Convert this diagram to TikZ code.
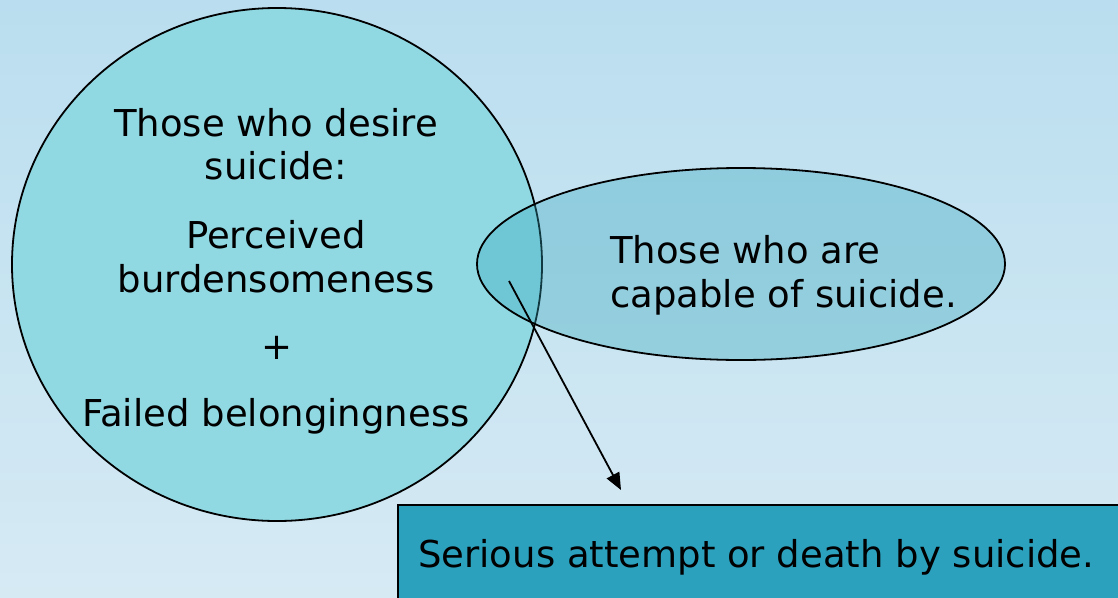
\documentclass[tikz,border=0pt]{standalone}
\usepackage{fontspec}
\setmainfont{DejaVu Sans}
\usetikzlibrary{shapes.geometric,arrows.meta}
\definecolor{bgtop}{HTML}{BADEEF}
\definecolor{bgbot}{HTML}{D6EAF4}
\definecolor{circfill}{HTML}{90D9E3}
\definecolor{ellfill}{HTML}{32A6BB}
\definecolor{boxfill}{HTML}{2BA1BE}
\tikzset{
  lbl/.style={font=\fontsize{37}{43}\selectfont, inner sep=0pt, text=black, anchor=base},
  shapeline/.style={draw=black, line width=1.8pt},
}
\begin{document}
\begin{tikzpicture}[x=1pt,y=-1pt]
\shade[top color=bgtop, bottom color=bgbot] (0,0) rectangle (1118,597);
\useasboundingbox (0,0) rectangle (1118,597);
% circle
\node[ellipse, shapeline, fill=circfill, minimum width=530pt, minimum height=513pt, inner sep=0pt] (desire) at (277,264.5) {};
% ellipse
\node[ellipse, shapeline, fill=ellfill, fill opacity=0.35, draw opacity=1, minimum width=528pt, minimum height=192pt, inner sep=0pt] (capable) at (741,264) {};
% texts in circle
\node[lbl] (t1a) at (276,136) {Those who desire};
\node[lbl] (t1b) at (276,179) {suicide:};
\node[lbl] (t2a) at (276,248) {Perceived};
\node[lbl] (t2b) at (276,292) {burdensomeness};
\node[lbl, anchor=center] (t3) at (277,348) {+};
\node[lbl] (t4) at (276,426) {Failed belongingness};
% text in ellipse
\node[lbl, anchor=base west] (t5a) at (610,263) {Those who are};
\node[lbl, anchor=base west] (t5b) at (610,307) {capable of suicide.};
% box
\node[shapeline, fill=boxfill, minimum width=740pt, minimum height=110pt, inner sep=0pt, anchor=north west] (outcome) at (397,504) {};
\node[lbl, anchor=base west] (t6) at (418,567) {Serious attempt or death by suicide.};
% arrow
\coordinate (from) at (509,281);
\coordinate (to) at (621,490);
\draw[line width=1.8pt, -{Triangle[length=17pt,width=14pt]}] (from) -- (to);
\end{tikzpicture}
\end{document}
